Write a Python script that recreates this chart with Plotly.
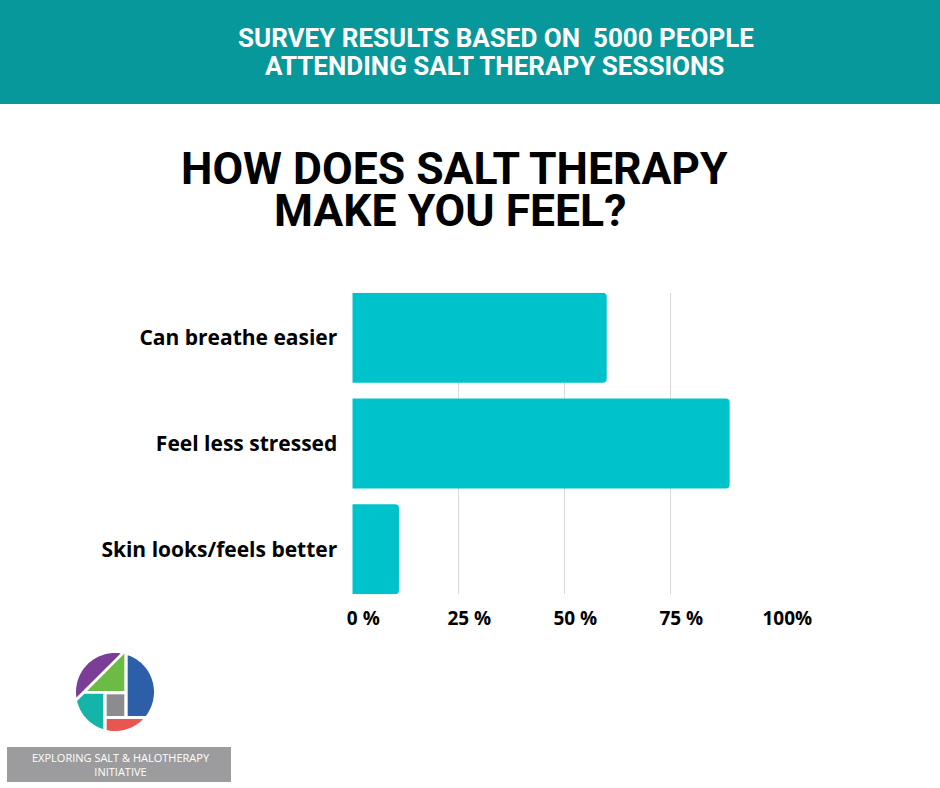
'''survey bar chart - salt therapy'''
import numpy as np
import plotly.graph_objects as go

# data
categories = ["Can breathe easier", "Feel less stressed", "Skin looks/feels better"]
values = [60, 89, 11]
tick_vals = [0, 25, 50, 75, 100]
tick_text = ["0 %", "25 %", "50 %", "75 %", "100%"]

banner_lines = ["SURVEY RESULTS BASED ON  5000 PEOPLE", "ATTENDING SALT THERAPY SESSIONS"]
title_lines = ["HOW DOES SALT THERAPY", "MAKE YOU FEEL?"]
logo_text = "EXPLORING SALT & HALOTHERAPY<br>INITIATIVE"

W, H = 940, 788


def px(x):
    return x / W


def py(y):
    return 1 - y / H


def clip(poly, a, b, c):
    '''keep the part of a convex polygon where a*x + b*y <= c'''
    out = []
    n = len(poly)
    for i in range(n):
        p, q = poly[i], poly[(i + 1) % n]
        fp = a * p[0] + b * p[1] - c
        fq = a * q[0] + b * q[1] - c
        if fp <= 0:
            out.append(p)
        if fp * fq < 0:
            t = fp / (fp - fq)
            out.append((p[0] + t * (q[0] - p[0]), p[1] + t * (q[1] - p[1])))
    return out


def to_path(poly):
    pts = ["%.5f,%.5f" % (px(x), py(y)) for x, y in poly]
    return "M" + " L".join(pts) + " Z"


def logo_shapes():
    cx, cy, r = 115, 692, 39
    t = np.linspace(0, 2 * np.pi, 160, endpoint=False)
    circle = [(cx + r * np.cos(a), cy + r * np.sin(a)) for a in t]
    parts = []
    # purple arc
    parts.append((clip(circle, 1, 1, 774), "#7a3e97"))
    # green
    g = clip(circle, -1, -1, -778)
    g = clip(g, 1, 0, 124.3)
    g = clip(g, 0, 1, 691)
    parts.append((g, "#6dbb47"))
    # blue
    b = clip(circle, -1, 0, -127.7)
    b = clip(b, 0, 1, 716)
    parts.append((b, "#2d5fa9"))
    # teal
    tl = clip(circle, -1, -1, -778)
    tl = clip(tl, 1, 0, 103.3)
    tl = clip(tl, 0, -1, -693.7)
    parts.append((tl, "#14b4a9"))
    # grey
    gr = [(106.7, 694.3), (124.3, 694.3), (124.3, 716), (106.7, 716)]
    parts.append((gr, "#8b8b90"))
    # red
    rd = clip(circle, -1, 0, -106.7)
    rd = clip(rd, 0, -1, -719)
    parts.append((rd, "#e7564f"))
    shapes = []
    for poly, col in parts:
        shapes.append(dict(type="path", xref="paper", yref="paper", path=to_path(poly),
                           fillcolor=col, line=dict(width=0), layer="above"))
    return shapes


def main():
    fig = go.Figure()
    fig.add_trace(go.Bar(x=values, y=categories, orientation="h", width=0.85,
                         marker=dict(color="#00c2cb", cornerradius=4, line=dict(width=0)),
                         hoverinfo="x+y"))

    shapes = [
        # banner
        dict(type="rect", xref="paper", yref="paper", x0=0, x1=1, y0=py(104), y1=1,
             fillcolor="#07989b", line=dict(width=0), layer="below"),
        # grey box under logo
        dict(type="rect", xref="paper", yref="paper", x0=px(7), x1=px(231), y0=py(782), y1=py(747),
             fillcolor="#9c9c9e", line=dict(width=0), layer="below"),
    ]
    shapes += logo_shapes()

    annotations = []
    for txt, x, y in zip(banner_lines, [496, 494], [38, 66]):
        annotations.append(dict(text=txt, x=px(x), y=py(y), xref="paper", yref="paper",
                                showarrow=False, xanchor="center", yanchor="middle",
                                font=dict(family="Roboto", size=26, color="white", weight=700)))
    for txt, x, y in zip(title_lines, [454, 450], [169, 211]):
        annotations.append(dict(text=txt, x=px(x), y=py(y), xref="paper", yref="paper",
                                showarrow=False, xanchor="center", yanchor="middle",
                                font=dict(family="Roboto", size=44.5, color="black", weight=700)))
    annotations.append(dict(text=logo_text, x=px(121), y=py(764.5), xref="paper", yref="paper",
                            showarrow=False, xanchor="center", yanchor="middle",
                            font=dict(family="Open Sans", size=11, color="white")))

    fig.update_layout(
        width=W, height=H,
        margin=dict(l=0, r=0, t=0, b=0, autoexpand=False),
        paper_bgcolor="white", plot_bgcolor="white",
        showlegend=False,
        shapes=shapes,
        annotations=annotations,
        xaxis=dict(domain=[px(352.3), px(776.3)], range=[0, 100], automargin=False,
                   tickvals=tick_vals, ticktext=tick_text,
                   showgrid=True, gridcolor="#d9d9d9", gridwidth=1,
                   zeroline=False, showline=False, ticks="",
                   ticklabelshift=11, ticklabelstandoff=11,
                   tickfont=dict(family="Open Sans", size=19, color="black", weight=700)),
        yaxis=dict(domain=[py(594.3), py(292.7)], range=[2.425, -0.425], automargin=False,
                   showgrid=False, zeroline=False, showline=False, ticks="",
                   ticklabelstandoff=14,
                   tickfont=dict(family="Open Sans", size=21, color="black", weight=700)),
    )
    fig.write_html("out.html", config={"displayModeBar": False},
                   post_script="document.body.style.margin='0';")


if __name__ == "__main__":
    main()
